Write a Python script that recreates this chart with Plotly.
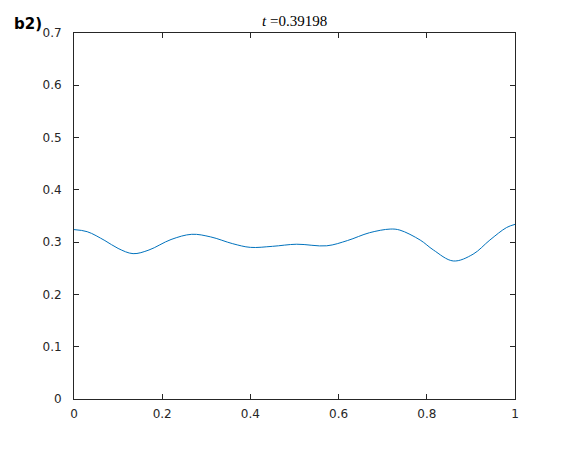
import plotly.graph_objects as go

# curve
x_vals = [0, 0.03, 0.07, 0.10, 0.134, 0.17, 0.22, 0.267, 0.31, 0.36, 0.40,
          0.45, 0.505, 0.573, 0.62, 0.67, 0.717, 0.739, 0.785, 0.815, 0.860,
          0.905, 0.943, 0.981, 1.0]
y_vals = [0.324, 0.320, 0.303, 0.288, 0.278, 0.285, 0.305, 0.315, 0.310, 0.297, 0.290,
          0.292, 0.296, 0.293, 0.303, 0.318, 0.325, 0.323, 0.304, 0.285, 0.264,
          0.277, 0.304, 0.328, 0.334]

x_ticks = [0, 0.2, 0.4, 0.6, 0.8, 1]
y_ticks = [0, 0.1, 0.2, 0.3, 0.4, 0.5, 0.6, 0.7]
title_text = "<i>t</i> =0.39198"
panel_label = "<b>b2)</b>"

fig = go.Figure(go.Scatter(
    x=x_vals, y=y_vals,
    mode='lines',
    line=dict(color='#0072BD', width=1, shape='spline', smoothing=1.0),
    showlegend=False,
))

axis_style = dict(
    showgrid=False, zeroline=False,
    showline=True, linecolor='#262626', linewidth=1, mirror='allticks',
    ticks='inside', ticklen=5, tickcolor='#262626', tickwidth=1,
    tickfont=dict(family='DejaVu Sans, sans-serif', size=12, color='#262626'),
)

# page body has an 8px margin, so the figure is a bit smaller than the window
fig.update_layout(
    width=554, height=434,
    margin=dict(l=66, r=47, t=25, b=43),
    plot_bgcolor='white', paper_bgcolor='white',
    xaxis=dict(range=[0, 1], tickvals=x_ticks, ticktext=[f'{v:g}' for v in x_ticks],
               ticklabelstandoff=4, **axis_style),
    yaxis=dict(range=[0, 0.7], tickvals=y_ticks, ticktext=[f'{v:g}' for v in y_ticks],
               ticklabelstandoff=9, **axis_style),
    annotations=[
        dict(text=title_text, xref='paper', yref='paper', x=0.5, y=1.0, yshift=12,
             xanchor='center', yanchor='middle', showarrow=False,
             font=dict(family='Liberation Serif, Times New Roman, serif', size=15, color='black')),
        dict(text=panel_label, xref='paper', yref='paper', x=-0.1406, y=1.0, yshift=9,
             xanchor='left', yanchor='middle', showarrow=False,
             font=dict(family='DejaVu Sans, sans-serif', size=15, color='black')),
    ],
)

fig.write_html("out.html")
